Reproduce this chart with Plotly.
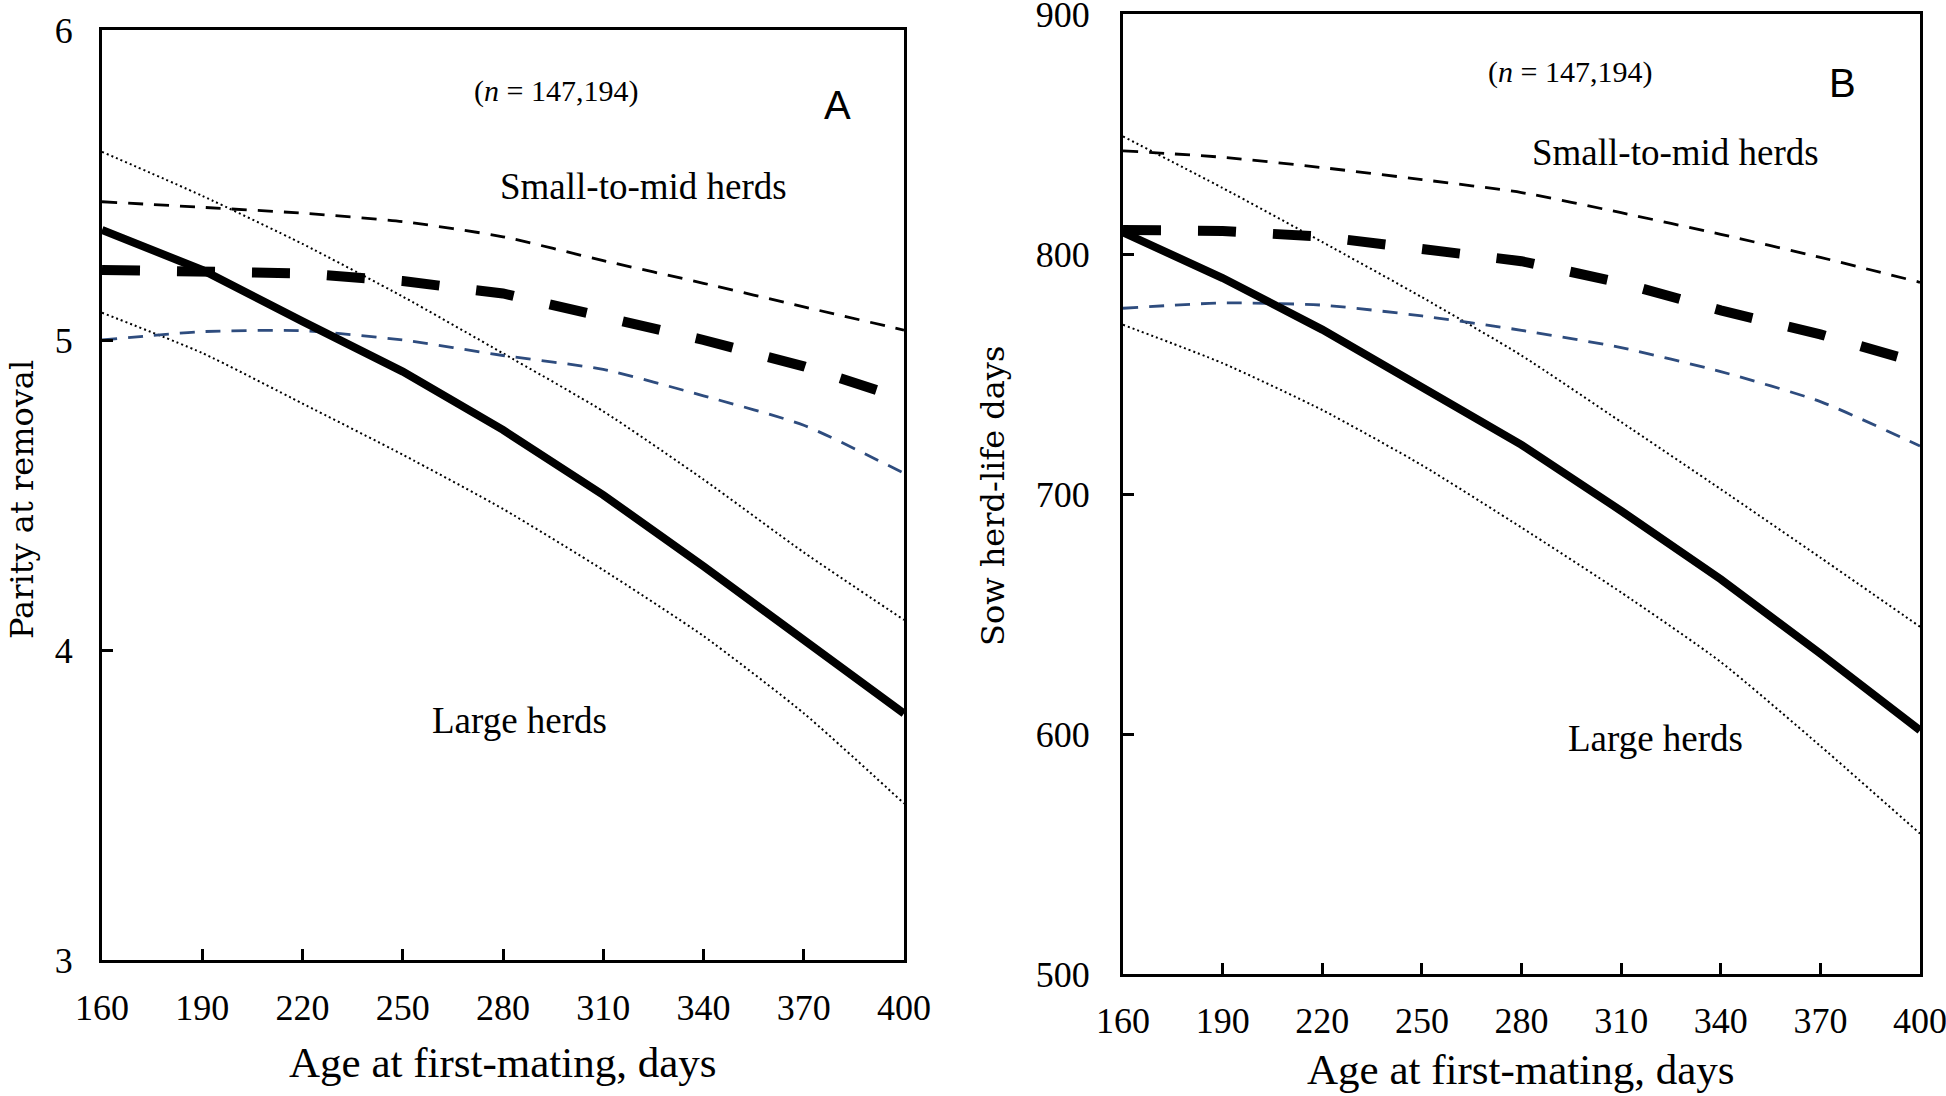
import plotly.graph_objects as go

# ---------------- data ----------------
age = [160, 190, 220, 250, 280, 310, 340, 370, 400]

# Panel A: parity at removal
parity_large = [5.355, 5.226, 5.06, 4.898, 4.71, 4.50, 4.27, 4.035, 3.795]
parity_large_upper = [5.607, 5.465, 5.31, 5.14, 4.957, 4.77, 4.55, 4.315, 4.097]
parity_large_lower = [5.088, 4.958, 4.795, 4.63, 4.455, 4.258, 4.045, 3.796, 3.505]
parity_small = [5.226, 5.224, 5.215, 5.19, 5.15, 5.075, 5.00, 4.915, 4.81]
parity_small_upper = [5.446, 5.428, 5.409, 5.382, 5.333, 5.256, 5.183, 5.107, 5.032]
parity_small_lower = [5.00, 5.027, 5.03, 5.00, 4.95, 4.905, 4.82, 4.725, 4.57]

# Panel B: sow herd-life days
life_large = [809, 790, 768.5, 744.5, 720.5, 693, 664.5, 633.5, 601.5]
life_large_upper = [849, 827.5, 805, 782, 757.7, 730, 702, 673.5, 644.7]
life_large_lower = [770.5, 754.5, 735, 712, 686, 659, 630, 595, 558.5]
life_small = [810, 809.6, 807.2, 802.4, 797, 788, 776.5, 766.5, 754.5]
life_small_upper = [843, 840.3, 836, 831, 825.6, 817.2, 808.2, 798.6, 788.2]
life_small_lower = [777.4, 779.6, 778.7, 774.2, 768.2, 761, 751, 738.5, 720]

x_ticks = [160, 190, 220, 250, 280, 310, 340, 370, 400]
yA_ticks = [3, 4, 5, 6]
yB_ticks = [500, 600, 700, 800, 900]

# ---------------- styles ----------------
W, H = 1946, 1096
SERIF = "Liberation Serif, Times New Roman, serif"
SANS = "Liberation Sans, Arial, sans-serif"
BLUE = "#2E4C7E"

styles = {
    "large": dict(color="black", width=8, dash="solid"),
    "large_ci": dict(color="black", width=2, dash="2px,3px"),
    "small": dict(color="black", width=10, dash="38px,37px"),
    "small_upper": dict(color="black", width=2.8, dash="15px,11px"),
    "small_lower": dict(color=BLUE, width=2.8, dash="15px,11px"),
}

fig = go.Figure()


def add_panel(xa, ya, large, lu, ll, small, su, sl):
    series = [
        (lu, "large_ci", "spline"),
        (ll, "large_ci", "spline"),
        (su, "small_upper", "spline"),
        (sl, "small_lower", "spline"),
        (large, "large", "linear"),
        (small, "small", "linear"),
    ]
    for ys, st, shape in series:
        fig.add_trace(go.Scatter(
            x=age, y=ys, mode="lines", xaxis=xa, yaxis=ya,
            line=dict(shape=shape, smoothing=0.6, **styles[st]),
            showlegend=False, hoverinfo="skip"))


add_panel("x", "y", parity_large, parity_large_upper, parity_large_lower,
          parity_small, parity_small_upper, parity_small_lower)
add_panel("x2", "y2", life_large, life_large_upper, life_large_lower,
          life_small, life_small_upper, life_small_lower)


def px_x(p):
    return p / W


def px_y(p):
    return 1 - p / H


axis_common = dict(
    showgrid=False, zeroline=False, showline=True, linecolor="black",
    linewidth=3, mirror=True, ticks="inside", ticklen=11, tickwidth=2.5,
    tickcolor="black", tickfont=dict(family=SERIF, size=36, color="black"),
    automargin=False, ticklabeloverflow="allow",
)

fig.update_layout(
    width=W, height=H,
    margin=dict(l=0, r=0, t=0, b=0),
    paper_bgcolor="white", plot_bgcolor="white",
    xaxis=dict(domain=[px_x(102), px_x(904)], range=[160, 400], anchor="y",
               tickvals=x_ticks, ticklabelstandoff=14, **axis_common),
    yaxis=dict(domain=[px_y(960), px_y(30)], range=[3, 6], anchor="x",
               tickvals=yA_ticks, ticklabelstandoff=19, **axis_common),
    xaxis2=dict(domain=[px_x(1123), px_x(1920)], range=[160, 400], anchor="y2",
                tickvals=x_ticks, ticklabelstandoff=13, **axis_common),
    yaxis2=dict(domain=[px_y(974), px_y(14)], range=[500, 900], anchor="x2",
                tickvals=yB_ticks, ticklabelstandoff=23, **axis_common),
)

C = dict(xanchor="center", yanchor="middle", showarrow=False)
ann = []
# axis titles
ann.append(dict(text="Age at first-mating, days", xref="paper", yref="paper",
                x=px_x(503), y=px_y(1062),
                font=dict(family=SERIF, size=43, color="black"), **C))
ann.append(dict(text="Age at first-mating, days", xref="paper", yref="paper",
                x=px_x(1521), y=px_y(1069),
                font=dict(family=SERIF, size=43, color="black"), **C))
ann.append(dict(text="Parity at removal", xref="paper", yref="paper",
                x=px_x(22), y=px_y(500), textangle=-90,
                font=dict(family="DejaVu Serif", size=32, color="black"), **C))
ann.append(dict(text="Sow herd-life days", xref="paper", yref="paper",
                x=px_x(993), y=px_y(496), textangle=-90,
                font=dict(family="DejaVu Serif", size=32, color="black"), **C))

# in-plot labels, panel A
ann += [
    dict(text="(<i>n</i> = 147,194)", xref="x", yref="y", x=295.9, y=5.803,
         font=dict(family=SERIF, size=30, color="black"), **C),
    dict(text="A", xref="x", yref="y", x=380.2, y=5.758,
         font=dict(family=SANS, size=40, color="black"), **C),
    dict(text="Small-to-mid herds", xref="x", yref="y", x=321.9, y=5.494,
         font=dict(family=SERIF, size=37, color="black"), **C),
    dict(text="Large herds", xref="x", yref="y", x=284.8, y=3.771,
         font=dict(family=SERIF, size=37, color="black"), **C),
]
# in-plot labels, panel B
ann += [
    dict(text="(<i>n</i> = 147,194)", xref="x2", yref="y2", x=294.6, y=875.8,
         font=dict(family=SERIF, size=30, color="black"), **C),
    dict(text="B", xref="x2", yref="y2", x=376.8, y=871.3,
         font=dict(family=SANS, size=40, color="black"), **C),
    dict(text="Small-to-mid herds", xref="x2", yref="y2", x=326.5, y=842.1,
         font=dict(family=SERIF, size=37, color="black"), **C),
    dict(text="Large herds", xref="x2", yref="y2", x=320.2, y=598.3,
         font=dict(family=SERIF, size=37, color="black"), **C),
]
fig.update_layout(annotations=ann)

# remove the default page margin so the 1946x1096 figure fills the window exactly
fig.write_html(
    "out.html",
    config={"displayModeBar": False},
    post_script="document.body.style.margin='0';document.body.style.overflow='hidden';",
)
